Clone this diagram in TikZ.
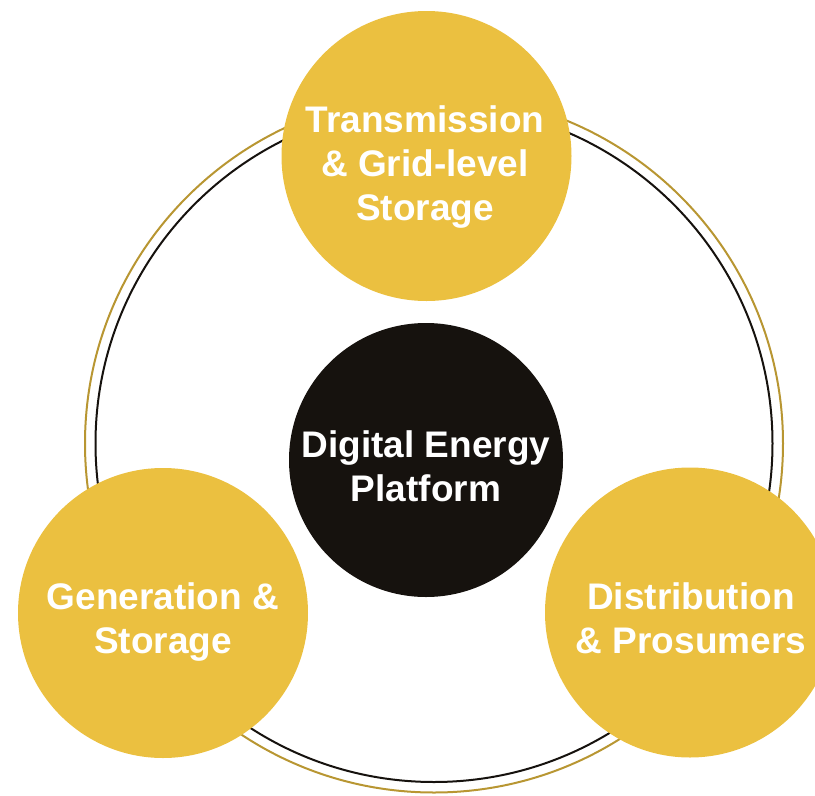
\documentclass[tikz,border=0pt]{standalone}
\usepackage{fontspec}
\setmainfont{Liberation Sans}
\definecolor{petal}{RGB}{235,192,64}
\definecolor{ringgold}{RGB}{184,150,50}
\definecolor{hub}{RGB}{22,18,14}
\begin{document}
\begin{tikzpicture}[x=1pt,y=-1pt,
  petalc/.style={circle,fill=petal,minimum size=290pt,inner sep=0pt},
  hubc/.style={circle,fill=hub,minimum size=274pt,inner sep=0pt},
  lbl/.style={text=white,align=center,font=\bfseries\fontsize{37}{44}\selectfont,inner sep=0pt}]
\useasboundingbox (0,0) rectangle (815,796);
\clip (0,0) rectangle (815,796);
\coordinate (ringc) at (434,443.5);
\draw[ringgold,line width=2pt] (ringc) circle (349);
\draw[hub,line width=2pt] (ringc) circle (338.5);
\node[petalc] (top) at (426.5,156) {};
\node[petalc] (left) at (163,613) {};
\node[petalc] (right) at (690,612.5) {};
\node[hubc] (hub) at (426,460) {};
\node[lbl] (toptxt) at (425,167) {Transmission\\\& Grid-level\\Storage};
\node[lbl] (lefttxt) at (163,622) {Generation \&\\Storage};
\node[lbl] (righttxt) at (691,618) {Distribution\\\& Prosumers};
\node[lbl] (hubtxt) at (426,466) {Digital Energy\\Platform};
\end{tikzpicture}
\end{document}
